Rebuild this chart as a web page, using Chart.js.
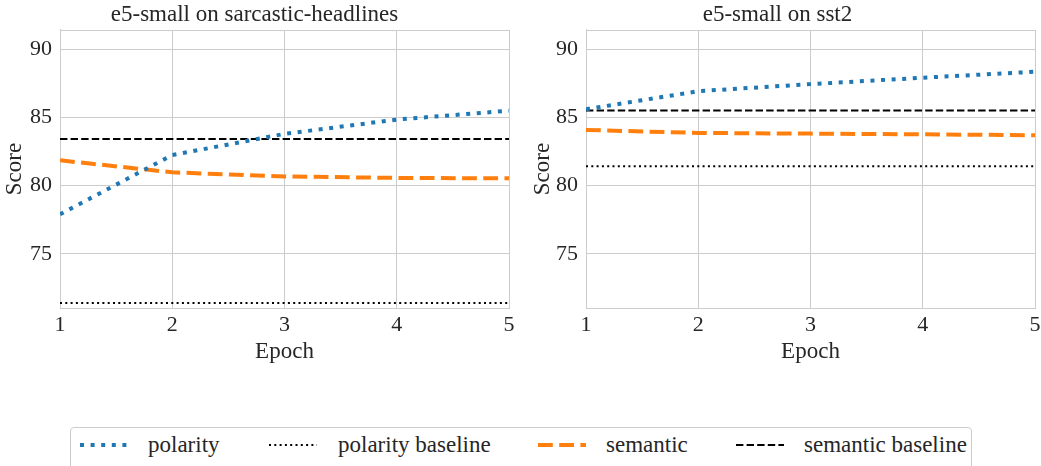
<!DOCTYPE html>
<html>
<head>
<meta charset="utf-8">
<script src="https://cdn.jsdelivr.net/npm/chart.js@4.4.1/dist/chart.umd.min.js"></script>
<style>
  html, body { margin: 0; padding: 0; background: #ffffff; }
  body { width: 1041px; height: 466px; position: relative; overflow: hidden;
         font-family: "Liberation Serif", "DejaVu Serif", serif; }
  .panel { position: absolute; top: 0; }
  #legend { position: absolute; left: 70px; top: 427px; width: 902px; height: 60px;
            border: 1px solid #cccccc; border-radius: 4px; background: #ffffff; box-sizing: border-box; }
  .swatch { position: absolute; top: 12px; }
  .label { position: absolute; top: 2px; font-size: 23px; line-height: 30px; color: #262626; white-space: nowrap; }
</style>
</head>
<body>
<div class="panel" style="left:0px;width:520px;height:370px"><canvas id="left" width="520" height="370"></canvas></div>
<div class="panel" style="left:520px;width:521px;height:370px"><canvas id="right" width="521" height="370"></canvas></div>
<div id="legend"></div>
<script>
// Epochs on the x axis and score ticks on the y axis
const epochs = [1, 2, 3, 4, 5];
const yTicks = [75, 80, 85, 90];
const yMin = 71.03;
const yMax = 91.42;

// e5-small on sarcastic-headlines
const sarcasticPolarity = [77.9, 82.25, 83.8, 84.85, 85.5];
const sarcasticSemantic = [81.86, 80.98, 80.68, 80.57, 80.54];
const sarcasticPolarityBaseline = 71.4;
const sarcasticSemanticBaseline = 83.43;

// e5-small on sst2
const sst2Polarity = [85.61, 86.93, 87.45, 87.92, 88.36];
const sst2Semantic = [84.09, 83.87, 83.82, 83.77, 83.7];
const sst2PolarityBaseline = 81.42;
const sst2SemanticBaseline = 85.51;

const TEXT = '#262626';
const GRID = '#cccccc';
const FONT = "'Liberation Serif', 'DejaVu Serif', serif";

// Series styles: dotted/dashed patterns follow the line width
const styles = {
  polarity:           { label: 'polarity',          color: '#1f77b4', width: 4, dash: [4, 6.6] },
  polarityBaseline:   { label: 'polarity baseline', color: '#000000', width: 2, dash: [2, 3.3] },
  semantic:           { label: 'semantic',          color: '#ff7f0e', width: 4, dash: [14.8, 6.4] },
  semanticBaseline:   { label: 'semantic baseline', color: '#000000', width: 2, dash: [7.4, 3.2] }
};
const order = ['polarity', 'polarityBaseline', 'semantic', 'semanticBaseline'];

function points(values) {
  return epochs.map((e, i) => ({ x: e, y: values[i] }));
}
function flat(value) {
  return epochs.map(e => ({ x: e, y: value }));
}
function dataset(key, data) {
  const s = styles[key];
  return {
    label: s.label, data,
    borderColor: s.color, backgroundColor: s.color,
    borderWidth: s.width, borderDash: s.dash, borderCapStyle: 'butt',
    pointRadius: 0, pointHoverRadius: 0, tension: 0, fill: false
  };
}

// Full frame around the plotting area
const framePlugin = {
  id: 'frame',
  beforeDatasetsDraw(chart) {
    const { ctx, chartArea: a } = chart;
    ctx.save();
    ctx.strokeStyle = GRID;
    ctx.lineWidth = 1;
    ctx.strokeRect(Math.round(a.left) + 0.5, Math.round(a.top) + 0.5,
                   Math.round(a.right - a.left), Math.round(a.bottom - a.top));
    ctx.restore();
  }
};

Chart.defaults.font.family = FONT;
Chart.defaults.font.weight = 'normal';

function makeChart(id, title, datasets, yWidth, padRight, scoreOffset) {
  return new Chart(document.getElementById(id), {
    type: 'line',
    data: { datasets },
    options: {
      responsive: false,
      animation: false,
      events: [],
      layout: { padding: { left: 0, right: padRight, top: 0, bottom: 0 } },
      plugins: {
        legend: { display: false },
        tooltip: { enabled: false },
        title: {
          display: true, text: title, color: TEXT,
          font: { family: FONT, size: 23, weight: 'normal' },
          padding: { top: 1, bottom: 1.4 }
        }
      },
      scales: {
        x: {
          type: 'linear', min: epochs[0], max: epochs[epochs.length - 1],
          afterBuildTicks: s => { s.ticks = epochs.map(v => ({ value: v })); },
          afterFit: s => { s.height = 62; s.paddingLeft = 0; s.paddingRight = 0; },
          grid: { color: GRID, lineWidth: 1, drawTicks: false },
          border: { display: true, color: GRID, width: 1 },
          ticks: { color: TEXT, padding: 4, font: { family: FONT, size: 22, weight: 'normal' }, callback: v => String(v), maxRotation: 0 },
          title: { display: true, text: 'Epoch', color: TEXT, font: { family: FONT, size: 23, weight: 'normal' }, padding: { top: 0, bottom: 4 } }
        },
        y: {
          min: yMin, max: yMax,
          afterBuildTicks: s => { s.ticks = yTicks.map(v => ({ value: v })); },
          afterFit: s => { s.width = yWidth; },
          grid: { color: GRID, lineWidth: 1, drawTicks: false },
          border: { display: true, color: GRID, width: 1 },
          ticks: { color: TEXT, padding: 8, font: { family: FONT, size: 22, weight: 'normal' }, callback: v => String(v) },
          title: { display: true, text: 'Score', color: TEXT, font: { family: FONT, size: 23, weight: 'normal' }, padding: { top: scoreOffset, bottom: 0 } }
        }
      }
    },
    plugins: [framePlugin]
  });
}

function buildLegend() {
  // Shared legend below both panels
  const legendPos = [
    { swatch: 9, text: 77 },
    { swatch: 198, text: 267 },
    { swatch: 467, text: 535 },
    { swatch: 665, text: 733 }
  ];
  const legend = document.getElementById('legend');
  const SVGNS = 'http://www.w3.org/2000/svg';
  order.forEach((key, i) => {
    const s = styles[key];
    const svg = document.createElementNS(SVGNS, 'svg');
    svg.setAttribute('class', 'swatch');
    svg.setAttribute('width', '48');
    svg.setAttribute('height', '10');
    svg.style.left = legendPos[i].swatch + 'px';
    const line = document.createElementNS(SVGNS, 'line');
    line.setAttribute('x1', '0'); line.setAttribute('x2', '48');
    line.setAttribute('y1', '5'); line.setAttribute('y2', '5');
    line.setAttribute('stroke', s.color);
    line.setAttribute('stroke-width', String(s.width));
    line.setAttribute('stroke-dasharray', s.dash.join(' '));
    svg.appendChild(line);
    legend.appendChild(svg);
    const span = document.createElement('span');
    span.className = 'label';
    span.style.left = legendPos[i].text + 'px';
    span.textContent = s.label;
    legend.appendChild(span);
  });
}

function draw() {
  makeChart('left', 'e5-small on sarcastic-headlines', [
    dataset('polarity', points(sarcasticPolarity)),
    dataset('polarityBaseline', flat(sarcasticPolarityBaseline)),
    dataset('semantic', points(sarcasticSemantic)),
    dataset('semanticBaseline', flat(sarcasticSemanticBaseline))
  ], 60, 11, 1.2);

  makeChart('right', 'e5-small on sst2', [
    dataset('polarity', points(sst2Polarity)),
    dataset('polarityBaseline', flat(sst2PolarityBaseline)),
    dataset('semantic', points(sst2Semantic)),
    dataset('semanticBaseline', flat(sst2SemanticBaseline))
  ], 66, 6, 9);
}

buildLegend();
const fontLoads = [
  document.fonts.load("22px 'Liberation Serif'"),
  document.fonts.load("23px 'Liberation Serif'")
];
Promise.all(fontLoads).catch(() => {}).then(() => document.fonts.ready).then(draw, draw);
</script>
</body>
</html>
